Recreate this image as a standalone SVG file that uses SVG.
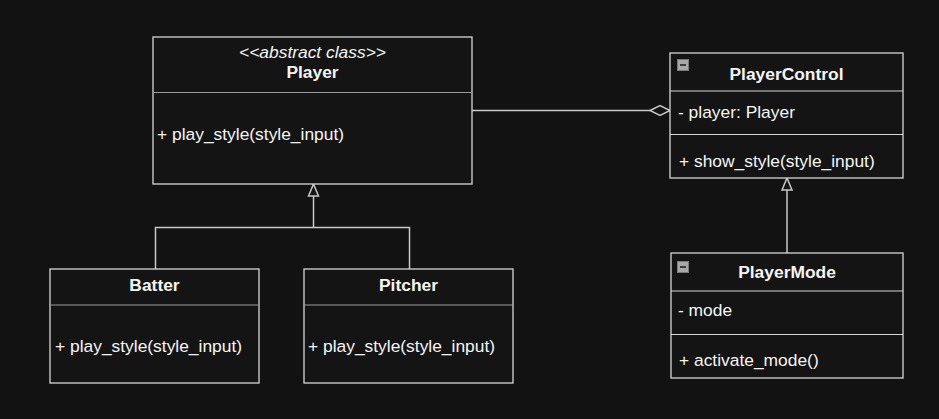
<svg xmlns="http://www.w3.org/2000/svg" width="939" height="419" viewBox="0 0 939 419">
<style>
.box{fill:#141414;stroke:#d6d6d6;stroke-width:1.3}
.div{stroke:#9a9a9a;stroke-width:1.2}
.divl{stroke:#d6d6d6;stroke-width:1.2}
text{font-family:"Liberation Sans",Arial,sans-serif;font-size:17.4px;fill:#f5f5f5}
.t{font-weight:bold;text-anchor:middle}
.st{font-style:italic;text-anchor:middle}
.conn{fill:none;stroke:#c8c8c8;stroke-width:1.5}
.head{fill:#141414;stroke:#c8c8c8;stroke-width:1.5}
.ico{fill:#a8a8a8;stroke:#7a7a7a;stroke-width:1}
</style>
<rect width="939" height="419" fill="#121212"/>
<g id="connectors">
<path class="conn" d="M472 110.5 H650"/>
<path class="head" d="M650 110.5 L660 105.5 L670 110.5 L660 115.5 Z"/>
<path class="conn" d="M313.5 196 V227.5 M155.5 269 V227.5 H409.5 V269"/>
<path class="head" d="M313.5 184 L318.5 196 L308.5 196 Z"/>
<path class="conn" d="M787 190 V253"/>
<path class="head" d="M787 178 L792 190 L782 190 Z"/>
</g>
<g id="Player">
<rect class="box" x="153" y="37" width="319" height="147"/>
<line class="div" x1="153" y1="92.5" x2="472" y2="92.5"/>
<text class="st" x="312.5" y="58">&lt;&lt;abstract class&gt;&gt;</text>
<text class="t" x="312.5" y="78">Player</text>
<text x="157" y="139.5">+ play_style(style_input)</text>
</g>
<g id="PlayerControl">
<rect class="box" x="670" y="53" width="233" height="125"/>
<line class="divl" x1="670" y1="91" x2="903" y2="91"/>
<line class="divl" x1="670" y1="134.5" x2="903" y2="134.5"/>
<rect class="ico" x="677.5" y="59.5" width="11" height="11"/>
<line x1="680" y1="65" x2="686" y2="65" stroke="#222" stroke-width="1.6"/>
<text class="t" x="786.5" y="79.5">PlayerControl</text>
<text x="678" y="117.5">- player: Player</text>
<text x="679" y="167">+ show_style(style_input)</text>
</g>
<g id="PlayerMode">
<rect class="box" x="671" y="253" width="232" height="125"/>
<line class="divl" x1="671" y1="291" x2="903" y2="291"/>
<line class="divl" x1="671" y1="334.5" x2="903" y2="334.5"/>
<rect class="ico" x="677.5" y="261.5" width="11" height="11"/>
<line x1="680" y1="267" x2="686" y2="267" stroke="#222" stroke-width="1.6"/>
<text class="t" x="787" y="277.5">PlayerMode</text>
<text x="678" y="315.5">- mode</text>
<text x="679" y="365.5">+ activate_mode()</text>
</g>
<g id="Batter">
<rect class="box" x="50" y="269" width="209" height="114"/>
<line class="div" x1="50" y1="305" x2="259" y2="305"/>
<text class="t" x="154.5" y="291">Batter</text>
<text x="55" y="351.5">+ play_style(style_input)</text>
</g>
<g id="Pitcher">
<rect class="box" x="304" y="269" width="209" height="114"/>
<line class="div" x1="304" y1="305" x2="513" y2="305"/>
<text class="t" x="408.5" y="291">Pitcher</text>
<text x="308" y="351.5">+ play_style(style_input)</text>
</g>
</svg>
